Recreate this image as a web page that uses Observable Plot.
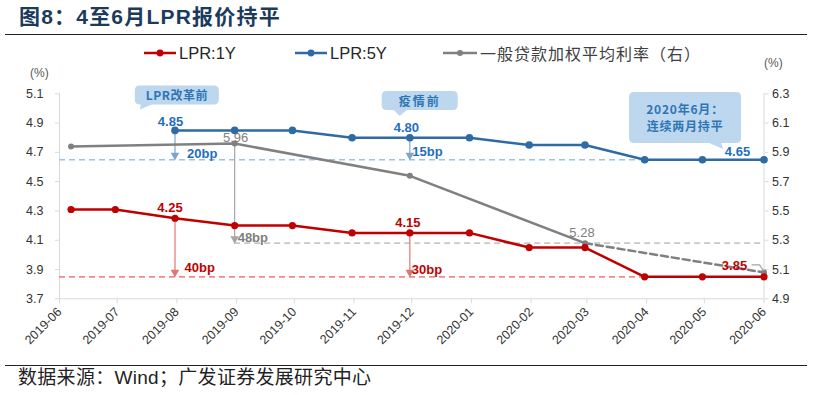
<!DOCTYPE html>
<html><head><meta charset="utf-8">
<script src="https://cdn.jsdelivr.net/npm/d3@7"></script>
<script src="https://cdn.jsdelivr.net/npm/@observablehq/plot@0.6"></script>
<style>
body{margin:0;background:#fff;}
#wrap{position:relative;width:814px;height:395px;overflow:hidden;font-family:"Liberation Sans","Noto Sans CJK SC",sans-serif;background:#fff;}
#chart{position:absolute;left:0;top:0;}
#title{position:absolute;left:19px;top:3px;font-size:21px;font-weight:bold;color:#1b3a5c;letter-spacing:1.2px;white-space:nowrap;line-height:28px;}
.rule{position:absolute;left:5px;width:802px;height:1.5px;background:#222;}
#footer{position:absolute;left:18px;top:366px;font-size:19px;color:#222;white-space:nowrap;line-height:24px;letter-spacing:0.3px;}
.leg{position:absolute;top:43px;height:20px;display:flex;align-items:center;white-space:nowrap;font-size:16.5px;color:#262626;}
.leg svg{margin-right:3px;}
.unit{position:absolute;font-size:12px;color:#595959;}
</style></head><body>
<div id="wrap">
  <div id="title">图8：4至6月LPR报价持平</div>
  <div class="rule" style="top:33.5px"></div>
  <div id="chart"></div>
  <div id="legend"></div>
  <div class="unit" style="left:30px;top:66px">(%)</div>
  <div class="unit" style="left:764px;top:56px">(%)</div>
  <div class="rule" style="top:364.5px"></div>
  <div id="footer">数据来源：Wind；广发证券发展研究中心</div>
</div>
<script>
// ---------- data ----------
const seriesNames = ["LPR:1Y", "LPR:5Y", "一般贷款加权平均利率（右）"];
const seriesColors = ["#c00000", "#2e6ba4", "#808080"];

const lpr1yDates = ["2019-06-07","2019-06-30","2019-07-31","2019-08-31","2019-09-30","2019-10-31","2019-11-30","2019-12-31","2020-01-31","2020-02-29","2020-03-31","2020-04-30","2020-06-01"];
const lpr1yValues = [4.31,4.31,4.25,4.20,4.20,4.15,4.15,4.15,4.05,4.05,3.85,3.85,3.85];

const lpr5yDates = ["2019-07-31","2019-08-31","2019-09-30","2019-10-31","2019-11-30","2019-12-31","2020-01-31","2020-02-29","2020-03-31","2020-04-30","2020-06-01"];
const lpr5yValues = [4.85,4.85,4.85,4.80,4.80,4.80,4.75,4.75,4.65,4.65,4.65];

const loanDates = ["2019-06-07","2019-08-31","2019-11-30","2020-02-29","2020-06-01"];
const loanValues = [5.94,5.96,5.74,5.28,5.08];   // right axis

const xDomain = ["2019-06-01","2020-06-01"];
const monthTicks = ["2019-06-01","2019-07-01","2019-08-01","2019-09-01","2019-10-01","2019-11-01","2019-12-01","2020-01-01","2020-02-01","2020-03-01","2020-04-01","2020-05-01","2020-06-01"];
const leftTicks = [3.7,3.9,4.1,4.3,4.5,4.7,4.9,5.1];
const rightTicks = [4.9,5.1,5.3,5.5,5.7,5.9,6.1,6.3];

// value labels
const labelSeries = ["5y","1y","5y","1y","loan","loan","1y","5y"];
const labelDates = ["2019-07-31","2019-07-31","2019-11-30","2019-11-30","2019-08-31","2020-02-29","2020-06-01","2020-06-01"];
const labelTexts = ["4.85","4.25","4.80","4.15","5.96","5.28","3.85","4.65"];

// reductions (arrows)
const cutSeries = ["5y","5y","1y","1y","loan"];
const cutDates = ["2019-07-31","2019-11-30","2019-07-31","2019-11-30","2019-08-31"];
const cutFrom = [4.85,4.80,4.25,4.15,5.96];
const cutTo = [4.65,4.65,3.85,3.85,5.28];
const cutTexts = ["20bp","15bp","40bp","30bp","48bp"];

// reference dashed levels
const refSeries = ["5y","1y","loan"];
const refLevels = [4.65,3.85,5.28];
const refStart = ["2019-06-01","2019-06-01","2019-08-31"];
const refEnd = ["2020-03-31","2020-03-31","2020-06-01"];

// callouts
const calloutTexts = [["LPR改革前"],["疫情前"],["2020年6月：","连续两月持平"]];
const calloutTipDates = ["2019-07-13","2019-11-25","2020-05-11"];
const calloutTipValues = [4.99,4.945,4.72];

// ---------- build ----------
const parse = d3.utcParse("%Y-%m-%d");
const leftDomain = [3.7, 5.1], rightDomain = [4.9, 6.3];
const toLeft = v => leftDomain[0] + (v - rightDomain[0]) * (leftDomain[1]-leftDomain[0])/(rightDomain[1]-rightDomain[0]);
const fromLeft = v => rightDomain[0] + (v - leftDomain[0]) * (rightDomain[1]-rightDomain[0])/(leftDomain[1]-leftDomain[0]);

const rows1y = lpr1yDates.map((d,i)=>({date:parse(d), v:lpr1yValues[i]}));
const rows5y = lpr5yDates.map((d,i)=>({date:parse(d), v:lpr5yValues[i]}));
const rowsLoan = loanDates.map((d,i)=>({date:parse(d), v:toLeft(loanValues[i])}));

const lineColor = {"1y":"#c00000","5y":"#2e6ba4","loan":"#808080"};
const textColor = {"1y":"#c00000","5y":"#1f6fbf","loan":"#7f7f7f"};
const arrowColor = {"1y":"#e57373","5y":"#7ea6cc","loan":"#a6a6a6"};
const refColor = {"1y":"#ef8a8a","5y":"#9dc3e6","loan":"#c8c8c8"};
const conv = (s,v) => s === "loan" ? toLeft(v) : v;
const valueOf = (s, date) => {
  const rows = s==="1y"?rows1y:s==="5y"?rows5y:rowsLoan;
  return rows.find(r => +r.date === +date).v;
};

const labelOffsets = {"4.85":[-4.5,-8.5],"4.25":[-5,-10],"4.80":[-3.5,-10],"4.15":[-2,-10],"5.96":[1,-6],"5.28":[-3,-10],"3.85":[-29.5,-11],"4.65":[-26.5,-8]};
const labels = labelTexts.map((t,i)=>{
  const date = parse(labelDates[i]);
  const s = labelSeries[i];
  const o = labelOffsets[t];
  return {date, v: valueOf(s,date), t, s, dx:o[0], dy:o[1], bold: s!=="loan"};
});

const cutOffsets = {"20bp":[12,-6],"15bp":[2.5,-7.5],"40bp":[9.5,-9],"30bp":[2,-7],"48bp":[3,-5]};
const cuts = cutTexts.map((t,i)=>({date:parse(cutDates[i]), from:conv(cutSeries[i],cutFrom[i]), to:conv(cutSeries[i],cutTo[i]), s:cutSeries[i], t, dx:cutOffsets[t][0], dy:cutOffsets[t][1]}));

const refs = refLevels.map((v,i)=>({y:conv(refSeries[i],v), x1:parse(refStart[i]), x2:parse(refEnd[i]), s:refSeries[i]}));

const calloutGeom = [
  {box:[-5,79,-24,-5], base:[1,12]},
  {box:[-18,58,-25,-6], base:[-6,7]},
  {box:[-94,18,-57,-6], base:[-14,-2]}
];
const callouts = calloutTexts.map((lines,i)=>({lines, date:parse(calloutTipDates[i]), v:calloutTipValues[i], g:calloutGeom[i]}));

function calloutMark(index, scales) {
  const g = d3.create("svg:g");
  for (const c of callouts) {
    const tx = scales.x(c.date), ty = scales.y(c.v);
    const [l0,r0,t0,b0] = c.g.box;
    const L=tx+l0, R=tx+r0, T=ty+t0, B=ty+b0, r=5;
    const b1 = tx+c.g.base[0], b2 = tx+c.g.base[1];
    const d = `M${L+r},${T}H${R-r}Q${R},${T} ${R},${T+r}V${B-r}Q${R},${B} ${R-r},${B}H${b2}L${tx},${ty}L${b1},${B}H${L+r}Q${L},${B} ${L},${B-r}V${T+r}Q${L},${T} ${L+r},${T}Z`;
    g.append("path").attr("d", d).attr("fill", "#bdd7ee");
    const cx = (L+R)/2, cy = (T+B)/2;
    const n = c.lines.length;
    c.lines.forEach((line,j)=>{
      g.append("text").attr("x", cx).attr("y", cy + (j-(n-1)/2)*17)
        .attr("text-anchor","middle").attr("dominant-baseline","central")
        .attr("font-size", 12).attr("font-weight", 600).attr("letter-spacing", n>1?0.8:(line.length<4?2:0.5))
        .attr("font-family","'Noto Sans CJK SC','Liberation Sans',sans-serif")
        .attr("fill","#2e75b6").text(line);
    });
  }
  const last = rowsLoan[rowsLoan.length-1];
  const px = scales.x(last.date), py = scales.y(last.v);
  g.append("path").attr("d", `M${px-12},${py-7}H${px-4}L${px},${py-1}`).attr("fill","none").attr("stroke","#a6a6a6").attr("stroke-width",1.2);
  return g.node();
}

const W = 814, H = 395;
const chart = Plot.plot({
  width: W, height: H,
  marginLeft: 59, marginRight: 50.5, marginTop: 93.3, marginBottom: 96.7,
  style: {fontFamily: "'Liberation Sans','Noto Sans CJK SC',sans-serif", background: "transparent", overflow: "visible"},
  x: {type: "utc", domain: xDomain.map(parse)},
  y: {domain: leftDomain},
  marks: [
    Plot.ruleX([parse(xDomain[0]), parse(xDomain[1])], {stroke: "#d9d9d9"}),
    Plot.ruleY([leftDomain[0]], {stroke: "#d9d9d9"}),
    Plot.axisY(leftTicks, {anchor: "left", tickSize: 4, tickPadding: 12, fontSize: 12.5, stroke: "#d9d9d9", fill: "#333", tickFormat: d => d.toFixed(1), label: null}),
    Plot.axisY(rightTicks.map(toLeft), {anchor: "right", tickSize: 4, tickPadding: 4, fontSize: 12.5, stroke: "#d9d9d9", fill: "#333", tickFormat: d => fromLeft(d).toFixed(1), label: null}),
    Plot.axisX(monthTicks.map(parse), {tickSize: 5, tickPadding: 6, tickRotate: -45, fontSize: 12.5, stroke: "#d9d9d9", fill: "#333", tickFormat: d3.utcFormat("%Y-%m"), label: null}),
    Plot.ruleY(refs, {y: "y", x1: "x1", x2: "x2", stroke: d => refColor[d.s], strokeWidth: 1.6, strokeDasharray: "6,4"}),
    Plot.ruleX(cuts, {x: "date", y1: "from", y2: "to", stroke: d => arrowColor[d.s], strokeWidth: 1.2}),
    Plot.dot(cuts, {x: "date", y: "to", symbol: "triangle", rotate: 180, r: 3.2, fill: d => arrowColor[d.s], stroke: "none", dy: -4.5}),
    Plot.line(rowsLoan.slice(0,4), {x: "date", y: "v", stroke: lineColor.loan, strokeWidth: 2.5}),
    Plot.line(rowsLoan.slice(3), {x: "date", y: "v", stroke: lineColor.loan, strokeWidth: 2.5, strokeDasharray: "7,4"}),
    Plot.dot(rowsLoan, {x: "date", y: "v", r: 3, fill: lineColor.loan, stroke: "none"}),
    Plot.line(rows1y, {x: "date", y: "v", stroke: lineColor["1y"], strokeWidth: 2.5}),
    Plot.dot(rows1y, {x: "date", y: "v", r: 3.6, fill: lineColor["1y"], stroke: "none"}),
    Plot.line(rows5y, {x: "date", y: "v", stroke: lineColor["5y"], strokeWidth: 2.5}),
    Plot.dot(rows5y, {x: "date", y: "v", r: 3.8, fill: lineColor["5y"], stroke: "none"}),
    calloutMark,
    ...labels.map(l => Plot.text([l], {x: "date", y: "v", text: "t", dx: l.dx, dy: l.dy, fill: textColor[l.s], fontSize: 13, fontWeight: l.bold ? "bold" : "normal"})),
    ...cuts.map(c => Plot.text([c], {x: "date", y: "to", text: "t", dx: c.dx, dy: c.dy, textAnchor: "start", fill: textColor[c.s], fontSize: 13, fontWeight: "bold"}))
  ]
});
document.getElementById("chart").appendChild(chart);

// legend
const legend = document.getElementById("legend");
const legendLeft = [144, 295, 443];
seriesNames.forEach((name, i) => {
  const div = document.createElement("div");
  div.className = "leg";
  div.style.left = legendLeft[i] + "px";
  const sw = i === 2 ? 34 : 32;
  div.innerHTML = `<svg width="${sw}" height="10"><line x1="0" y1="5" x2="${sw}" y2="5" stroke="${seriesColors[i]}" stroke-width="2.5"/><circle cx="${sw/2}" cy="5" r="${i===2?3:3.4}" fill="${seriesColors[i]}"/></svg><span style="${i===2?"font-family:'Noto Sans CJK SC';font-size:16px;color:#404040;letter-spacing:1px":""}">${name}</span>`;
  legend.appendChild(div);
});
</script>
</body></html>
